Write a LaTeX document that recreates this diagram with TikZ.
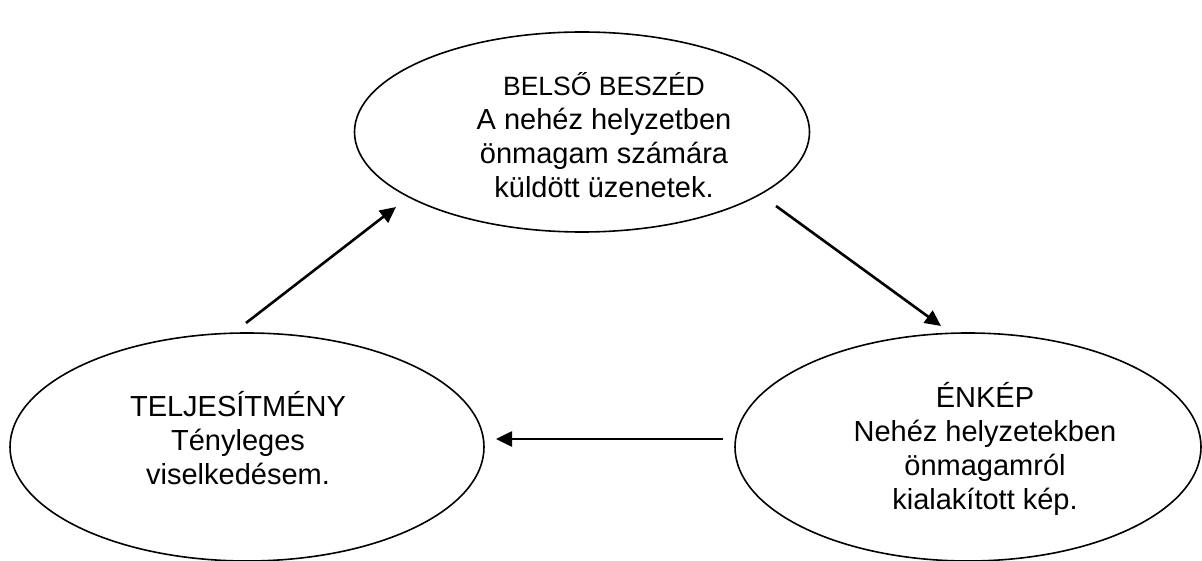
\documentclass[tikz,border=0pt]{standalone}
\usepackage{fontspec}
\setmainfont{Liberation Sans}
\usetikzlibrary{shapes.geometric,arrows.meta}
\begin{document}
\begin{tikzpicture}[x=1pt,y=-1pt,
  oval/.style={draw,ellipse,line width=1.6pt,inner sep=0pt},
  txt/.style={align=center,inner sep=0pt,font=\fontsize{29}{34}\selectfont},
  conn/.style={line width=2.6pt,-{Triangle[length=16pt,width=15pt]}}]
\useasboundingbox (0,0) rectangle (1202,561);
\clip (0,0) rectangle (1202,561);
\node[oval,minimum width=455pt,minimum height=200pt] (top) at (582,132) {};
\node[oval,minimum width=474pt,minimum height=228pt] (left) at (247,447) {};
\node[oval,minimum width=466pt,minimum height=228pt] (right) at (968,447) {};
\node[txt] (toptxt) at (604,135) {{\fontsize{26.5}{34}\selectfont BELSŐ BESZÉD}\\A nehéz helyzetben\\önmagam számára\\küldött üzenetek.};
\node[txt] (lefttxt) at (238,438) {TELJESÍTMÉNY\\Tényleges\\viselkedésem.};
\node[txt] (righttxt) at (985,449) {ÉNKÉP\\Nehéz helyzetekben\\önmagamról\\kialakított kép.};
\coordinate (a1) at (246,323);
\coordinate (a2) at (396,207);
\coordinate (b1) at (776,206);
\coordinate (b2) at (941,326);
\coordinate (c1) at (723,439);
\coordinate (c2) at (496,439);
\draw[conn] (a1) -- (a2);
\draw[conn] (b1) -- (b2);
\draw[conn] (c1) -- (c2);
\end{tikzpicture}
\end{document}
